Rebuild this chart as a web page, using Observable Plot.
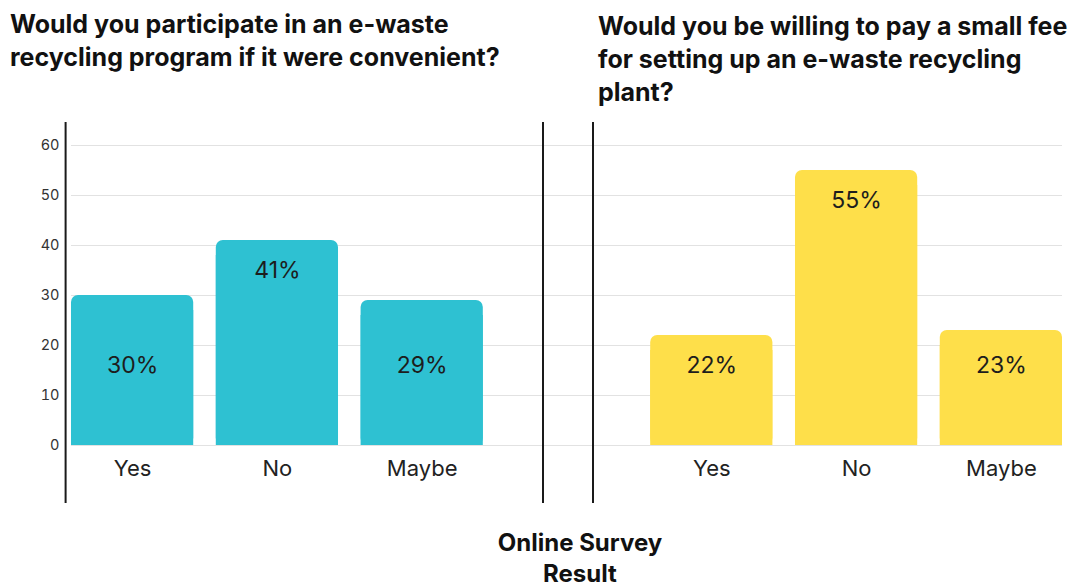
<!DOCTYPE html>
<html>
<head>
<meta charset="utf-8">
<script src="https://cdn.jsdelivr.net/npm/d3@7"></script>
<script src="https://cdn.jsdelivr.net/npm/@observablehq/plot@0.6"></script>
<style>
  html, body { margin: 0; padding: 0; background: #fff; }
  #page { position: relative; width: 1075px; height: 587px; overflow: hidden; font-family: Inter, "Noto Sans", sans-serif; }
  .title { position: absolute; font-family: Inter, sans-serif; font-weight: 700; font-size: 25px; line-height: 33px; color: #111; white-space: nowrap; }
  #chart { position: absolute; left: 0; top: 110px; }
  #caption { position: absolute; left: 430px; width: 300px; top: 527px; text-align: center; font-family: Inter, sans-serif; font-weight: 700; font-size: 24px; line-height: 31px; color: #111; }
</style>
</head>
<body>
<div id="page">
  <div class="title" id="t1" style="left:10px; top:8px;"></div>
  <div class="title" id="t2" style="left:598px; top:10px;"></div>
  <div id="chart"></div>
  <div id="caption"></div>
</div>
<script>
// ---- data ----
const categories = ["Yes", "No", "Maybe"];
const participateValues = [30, 41, 29];
const feeValues = [22, 55, 23];
const yTicks = [0, 10, 20, 30, 40, 50, 60];
const leftTitle = ["Would you participate in an e-waste", "recycling program if it were convenient?"];
const rightTitle = ["Would you be willing to pay a small fee", "for setting up an e-waste recycling", "plant?"];
const captionLines = ["Online Survey", "Result"];

// ---- text ----
function setLines(id, lines) {
  const el = document.getElementById(id);
  lines.forEach((l, i) => { if (i) el.appendChild(document.createElement("br")); el.appendChild(document.createTextNode(l)); });
}
setLines("t1", leftTitle);
setLines("t2", rightTitle);
setLines("caption", captionLines);

// ---- chart ----
const TEAL = "#2EC1D2";
const YELLOW = "#FEDF4A";
const rows = [
  ...categories.map((c, i) => ({key: "L-" + c, label: c, value: participateValues[i], color: TEAL})),
  ...categories.map((c, i) => ({key: "R-" + c, label: c, value: feeValues[i], color: YELLOW}))
];
const xDomain = [...categories.map(c => "L-" + c), "gap", ...categories.map(c => "R-" + c)];

const chart = Plot.plot({
  width: 1075,
  height: 400,
  marginTop: 35,
  marginBottom: 65,
  marginLeft: 71,
  marginRight: 13,
  style: {fontFamily: "Inter, sans-serif", color: "#333", background: "transparent", overflow: "visible"},
  x: {domain: xDomain, paddingInner: 0.156, paddingOuter: 0, round: false},
  y: {domain: [0, 60]},
  color: {type: "identity"},
  marks: [
    Plot.gridY(yTicks, {stroke: "#e2e2e2", strokeOpacity: 1, strokeWidth: 1}),
    Plot.barY(rows, {x: "key", y: "value", fill: "color", rx: 7}),
    Plot.barY(rows, {x: "key", y1: 0, y2: d => d.value - 3, fill: "color"}),
    Plot.text(rows, {x: "key", y: d => d.value > 35 ? d.value - 6 : 16, text: d => d.value + "%", fontSize: 23, fill: "#1d1d1d", fontFamily: "Inter, sans-serif"}),
    Plot.axisY(yTicks, {tickSize: 0, tickPadding: 12, fontSize: 14.5, label: null, fill: "#333"}),
    Plot.axisX({tickSize: 0, tickPadding: 15, fontSize: 22, label: null, fill: "#222", tickFormat: k => k === "gap" ? "" : k.slice(2)}),
    Plot.ruleX(["L-Yes"], {dx: -67, y1: -11.6, y2: 64.6, stroke: "#1a1a1a", strokeWidth: 2}),
    Plot.ruleX(["gap"], {dx: -24, y1: -11.6, y2: 64.6, stroke: "#1a1a1a", strokeWidth: 2}),
    Plot.ruleX(["gap"], {dx: 26, y1: -11.6, y2: 64.6, stroke: "#1a1a1a", strokeWidth: 2})
  ]
});
document.getElementById("chart").appendChild(chart);
</script>
</body>
</html>
